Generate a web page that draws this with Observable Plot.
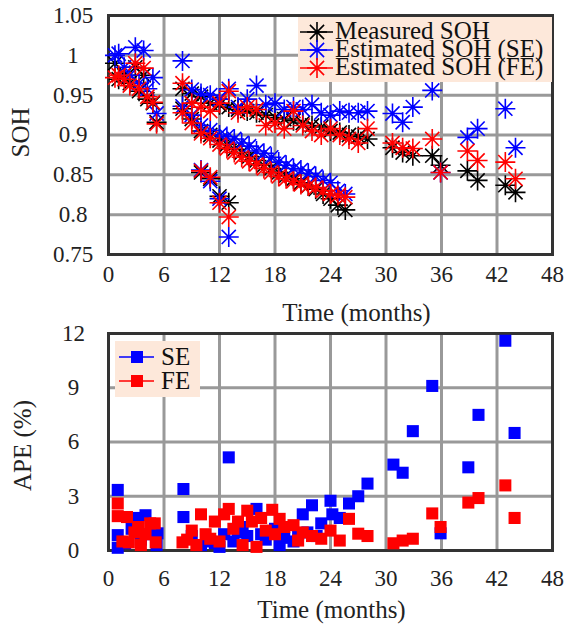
<!DOCTYPE html>
<html><head><meta charset="utf-8">
<script src="https://cdn.jsdelivr.net/npm/d3@7"></script>
<script src="https://cdn.jsdelivr.net/npm/@observablehq/plot@0.6"></script>
<style>
body{margin:0;background:#fff;}
#wrap{position:relative;width:566px;height:626px;font-family:"Liberation Serif","Times New Roman",serif;}
#wrap > svg{position:absolute;left:0;}
</style></head><body><div id="wrap"></div>
<script>
// ---------- data: SOH panel ----------
const time = [0.7,1.1,1.7,2.3,2.9,3.3,3.8,4.2,4.8,5.2,
  8,9,10,11,12,13,14,15,16,17,18,19,20,21,22,23,24,25,26,27,28,
  8,9,10,11,12,12.8,13.6,14.4,15.2,16,16.8,17.6,18.4,19.2,20,20.8,21.6,22.4,23.2,24,24.8,25.6,
  10,11,12,13,
  30.7,31.8,32.9,35,35.9,
  38.8,39.9,42.9,44];
const measured = [0.99,0.97,0.975,0.965,0.985,0.955,0.975,0.945,0.94,0.916,
  0.958,0.952,0.948,0.94,0.938,0.935,0.932,0.93,0.928,0.925,0.922,0.92,0.918,0.915,0.912,0.91,0.905,0.903,0.9,0.898,0.895,
  0.933,0.92,0.905,0.9,0.893,0.888,0.882,0.878,0.873,0.868,0.862,0.858,0.853,0.849,0.845,0.84,0.836,0.832,0.826,0.82,0.812,0.806,
  0.853,0.845,0.823,0.815,
  0.884,0.878,0.874,0.874,0.862,
  0.855,0.843,0.837,0.828];
const estSE = [1.0,1.002,0.985,0.975,1.01,0.965,1.006,0.958,0.972,0.927,
  0.993,0.957,0.952,0.95,0.945,0.958,0.935,0.945,0.962,0.938,0.94,0.932,0.935,0.932,0.938,0.928,0.925,0.93,0.928,0.928,0.93,
  0.936,0.925,0.912,0.906,0.9,0.898,0.895,0.89,0.886,0.88,0.877,0.872,0.866,0.862,0.858,0.856,0.852,0.848,0.843,0.84,0.83,0.826,
  0.856,0.842,0.82,0.772,
  0.927,0.916,0.935,0.956,0.853,
  0.897,0.908,0.933,0.884];
const estFE = [0.972,0.975,0.97,0.962,0.99,0.958,0.984,0.948,0.941,0.914,
  0.965,0.94,0.935,0.93,0.94,0.955,0.928,0.935,0.932,0.912,0.915,0.908,0.93,0.912,0.905,0.9,0.908,0.9,0.895,0.89,0.908,
  0.928,0.915,0.902,0.896,0.888,0.883,0.878,0.872,0.867,0.863,0.858,0.853,0.848,0.845,0.842,0.838,0.836,0.834,0.83,0.826,0.824,0.822,
  0.855,0.847,0.815,0.797,
  0.89,0.884,0.883,0.895,0.853,
  0.88,0.868,0.866,0.845];

// ---------- data: APE panel ----------
const apeTimeSE = [1.0,1.0,1.0,1.8,2.5,3.2,3.5,4.0,4.5,5.3,5.2,
  8.1,8.1,9,10,11,11.5,12,12.5,13,13.5,14,14.5,15,16,16.5,17,18,18.5,19,20,20.5,21,21.5,22,22.5,23,24,24.2,25,26,27,28,
  30.8,31.8,32.9,35,35.9,
  38.9,40,42.9,43.9];
const apeSE = [3.35,0.85,0.15,0.4,1.2,1.8,0.6,1.95,0.9,0.95,0.3,
  3.4,1.85,0.8,0.3,0.5,0.4,0.2,0.9,5.15,0.5,1.0,1.3,0.8,2.3,0.9,0.6,1.2,0.3,0.7,0.5,0.9,2.0,1.0,2.5,0.8,1.5,2.75,2.0,1.8,2.6,3.0,3.7,
  4.75,4.3,6.6,9.1,0.95,
  4.6,7.5,11.6,6.5];
const apeTimeFE = [1.0,1.0,2.0,1.5,2.2,2.8,3.2,3.5,4.0,4.5,5.1,5.0,
  8,8.5,9,9.5,10,10.5,11,11.5,12,12.5,13,13.5,14,14.5,15,15.5,16,16.5,17,17.7,18,18.5,19,20,20.5,21,22,23,24,25,26,27,28,
  30.8,31.8,32.9,35,35.9,
  38.9,40,42.9,43.9];
const apeFE = [2.6,1.9,1.85,0.5,0.45,1.0,1.3,0.3,0.9,1.5,0.45,1.5,
  0.45,0.6,1.1,0.3,2.0,0.9,0.65,1.6,0.5,2.0,2.3,1.2,1.6,0.3,2.2,1.6,0.2,1.8,1.1,2.25,0.9,1.75,1.3,1.4,0.55,1.0,0.8,0.65,1.1,0.55,1.75,0.93,0.8,
  0.4,0.55,0.65,2.05,1.3,
  2.65,2.9,3.6,1.8];

// ---------- ticks ----------
const xTicks = [0,6,12,18,24,30,36,42,48];
const sohTicks = [0.75,0.8,0.85,0.9,0.95,1.0,1.05];
const apeTicks = [0,3,6,9,12];
const legendTop = ["Measured SOH","Estimated SOH (SE)","Estimated SOH (FE)"];
const legendBottom = ["SE","FE"];
const colors = ["#000000","#0000ff","#ff0000"];

// 8-armed asterisk (MATLAB '*')
const star8 = {draw(ctx, size){
  const r = Math.sqrt(size/Math.PI), d = r*Math.SQRT1_2;
  ctx.moveTo(-r,0);ctx.lineTo(r,0);ctx.moveTo(0,-r);ctx.lineTo(0,r);
  ctx.moveTo(-d,-d);ctx.lineTo(d,d);ctx.moveTo(-d,d);ctx.lineTo(d,-d);
}};

const sohRows = time.map((t,i)=>({t, meas:measured[i], se:estSE[i], fe:estFE[i]}));
const seRows = apeTimeSE.map((t,i)=>({t, v:apeSE[i]}));
const feRows = apeTimeFE.map((t,i)=>({t, v:apeFE[i]}));

const gridStyle = {stroke:"#999999", strokeOpacity:1, strokeWidth:3};
const font = "Liberation Serif, Times New Roman, serif";
const wrap = document.getElementById("wrap");

const topPlot = Plot.plot({
  width:566, height:330, marginTop:15, marginBottom:76, marginLeft:108, marginRight:14,
  style:{fontFamily:font, fontSize:"23px", color:"#222", background:"transparent", overflow:"visible"},
  x:{domain:[0,48]}, y:{domain:[0.75,1.05]},
  marks:[
    Plot.gridX(xTicks.slice(1,-1), gridStyle),
    Plot.gridY(sohTicks.slice(1,-1), gridStyle),
    Plot.frame({stroke:"#333", strokeWidth:3}),
    Plot.axisX({ticks:xTicks, tickSize:0, tickPadding:11, label:null, fontSize:23}),
    Plot.axisY({ticks:sohTicks, tickSize:0, tickPadding:35.5, textAnchor:"middle", label:null, fontSize:23, tickFormat:d=>String(+d.toFixed(2))}),
    Plot.dot(sohRows, {x:"t", y:"meas", symbol:star8, r:10, stroke:colors[0], fill:"none", strokeWidth:1.6}),
    Plot.dot(sohRows, {x:"t", y:"se", symbol:star8, r:10, stroke:colors[1], fill:"none", strokeWidth:1.6}),
    Plot.dot(sohRows, {x:"t", y:"fe", symbol:star8, r:10, stroke:colors[2], fill:"none", strokeWidth:1.6}),
    Plot.text(["Time (months)"], {text:d=>d, frameAnchor:"bottom", lineAnchor:"middle", textAnchor:"middle", dx:26, dy:58, fontSize:25, fill:"#222"}),
    Plot.text(["SOH"], {text:d=>d, frameAnchor:"left", lineAnchor:"middle", textAnchor:"middle", rotate:-90, dx:-88, dy:-2.5, fontSize:25, fill:"#222"})
  ]
});
topPlot.style.top = "0px";
wrap.appendChild(topPlot);

const botPlot = Plot.plot({
  width:566, height:306, marginTop:13, marginBottom:76, marginLeft:108, marginRight:14,
  style:{fontFamily:font, fontSize:"23px", color:"#222", background:"transparent", overflow:"visible"},
  x:{domain:[0,48]}, y:{domain:[0,12]},
  marks:[
    Plot.gridX(xTicks.slice(1,-1), gridStyle),
    Plot.gridY(apeTicks.slice(1,-1), gridStyle),
    Plot.frame({stroke:"#333", strokeWidth:3}),
    Plot.axisX({ticks:xTicks, tickSize:0, tickPadding:19.5, label:null, fontSize:23}),
    Plot.axisY({ticks:apeTicks, tickSize:0, tickPadding:35, textAnchor:"middle", label:null, fontSize:23}),
    Plot.dot(seRows, {x:"t", y:"v", symbol:"square", r:6.8, fill:colors[1], stroke:"none"}),
    Plot.dot(feRows, {x:"t", y:"v", symbol:"square", r:6.8, fill:colors[2], stroke:"none"}),
    Plot.text(["Time (months)"], {text:d=>d, frameAnchor:"bottom", lineAnchor:"middle", textAnchor:"middle", dx:1, dy:59, fontSize:25, fill:"#222"}),
    Plot.text(["APE (%)"], {text:d=>d, frameAnchor:"left", lineAnchor:"middle", textAnchor:"middle", rotate:-90, dx:-86, dy:3.5, fontSize:25, fill:"#222"})
  ]
});
botPlot.style.top = "320px";
wrap.appendChild(botPlot);

// ---------- legends (overlay) ----------
const ov = d3.create("svg").attr("width",566).attr("height",626).style("top","0px")
  .style("font-family", font);
ov.append("rect").attr("x",298).attr("y",17).attr("width",254).attr("height",65).attr("fill","#fde8da");
legendTop.forEach((name,i)=>{
  const cy = 32 + 18*i;
  ov.append("line").attr("x1",300).attr("x2",333).attr("y1",cy).attr("y2",cy).attr("stroke",colors[i]).attr("stroke-width",1.5);
  ov.append("path").attr("transform",`translate(317,${cy})`).attr("d", d3.symbol(star8, Math.PI*100)()).attr("stroke",colors[i]).attr("fill","none").attr("stroke-width",1.6);
  ov.append("text").attr("x",335).attr("y",cy+7).attr("font-size",25).attr("fill","#111").text(name);
});
ov.append("rect").attr("x",115).attr("y",341).attr("width",85).attr("height",56).attr("fill","#fde8da");
legendBottom.forEach((name,i)=>{
  const cy = 357 + 24*i;
  ov.append("line").attr("x1",119).attr("x2",154).attr("y1",cy).attr("y2",cy).attr("stroke",colors[i+1]).attr("stroke-width",1.5);
  ov.append("rect").attr("x",131).attr("y",cy-6).attr("width",12).attr("height",12).attr("fill",colors[i+1]);
  ov.append("text").attr("x",161).attr("y",cy+8).attr("font-size",25).attr("fill","#111").text(name);
});
wrap.appendChild(ov.node());
</script></body></html>
